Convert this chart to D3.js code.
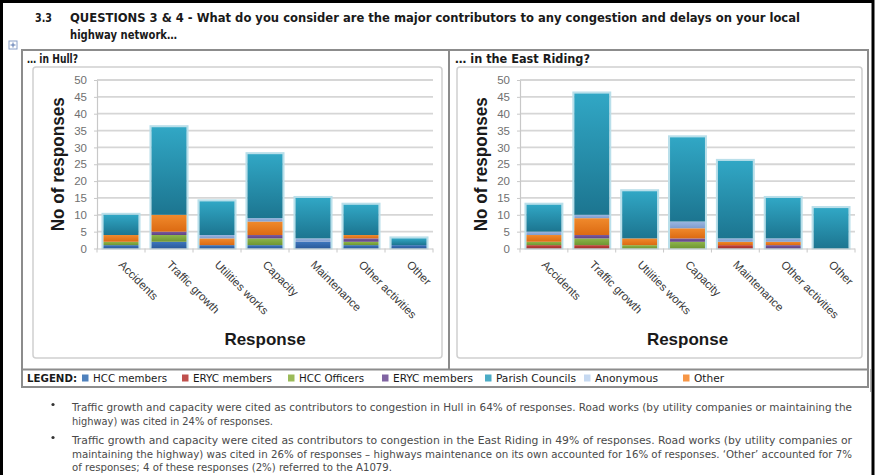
<!DOCTYPE html>
<html>
<head>
<meta charset="utf-8">
<script src="https://cdn.jsdelivr.net/npm/d3@7"></script>
<style>
  html, body { margin: 0; padding: 0; background: #fff; }
  svg { display: block; }
</style>
</head>
<body>
<div id="chart"></div>
<script>
// ---- Data ----------------------------------------------------------------
const categories = ["Accidents", "Traffic growth", "Utilities works", "Capacity",
                    "Maintenance", "Other activities", "Other"];

// Stack order (bottom to top)
const seriesKeys = ["hccMembers", "erycMembers", "hccOfficers", "erycMembers2",
                    "other", "anonymous", "parishCouncils"];

// Hull responses
const hullHccMembers     = [1, 2, 1, 1, 2, 1, 1];
const hullErycMembers    = [0, 0, 0, 0, 0, 0, 0];
const hullHccOfficers    = [1, 2, 0, 2, 0, 1, 0];
const hullErycMembers2   = [0, 1, 0, 1, 0, 1, 0];
const hullOther          = [2, 5, 2, 4, 0, 1, 0];
const hullAnonymous      = [0, 0, 1, 1, 1, 0, 0];
const hullParishCouncils = [6, 26, 10, 19, 12, 9, 2];

// East Riding responses
const erHccMembers     = [0, 0, 0, 0, 0, 0, 0];
const erErycMembers    = [1, 1, 0, 0, 1, 0, 0];
const erHccOfficers    = [1, 2, 1, 2, 0, 0, 0];
const erErycMembers2   = [0, 1, 0, 1, 0, 1, 0];
const erOther          = [2, 5, 2, 3, 1, 1, 0];
const erAnonymous      = [1, 1, 0, 2, 1, 1, 0];
const erParishCouncils = [8, 36, 14, 25, 23, 12, 12];

const yTicks = [0, 5, 10, 15, 20, 25, 30, 35, 40, 45, 50];

const legendKeys   = ["hccMembers", "erycMembers", "hccOfficers", "erycMembers2",
                      "parishCouncils", "anonymous", "other"];
const legendLabels = ["HCC members", "ERYC members", "HCC Officers", "ERYC members",
                      "Parish Councils", "Anonymous", "Other"];

// ---- Styles --------------------------------------------------------------
const barTop = {
  hccMembers: "#3d76bd", erycMembers: "#c4453f", hccOfficers: "#8db54a",
  erycMembers2: "#7a5aa0", other: "#f08a2c", anonymous: "#9bb6e0", parishCouncils: "#31a7c5"
};
const barBottom = {
  hccMembers: "#2a5a9a", erycMembers: "#a3302c", hccOfficers: "#6f9632",
  erycMembers2: "#5f4384", other: "#dc6a12", anonymous: "#7e9cce", parishCouncils: "#1c7590"
};
const legendColor = {
  hccMembers: "#4f81bd", erycMembers: "#c0504d", hccOfficers: "#9bbb59",
  erycMembers2: "#8064a2", parishCouncils: "#4bacc6", anonymous: "#c6d9f1", other: "#f79646"
};

const W = 877, H = 475;
const narrow = "'Liberation Sans Narrow','DejaVu Sans Condensed','Liberation Sans',sans-serif";
const sans = "'Liberation Sans',Arial,sans-serif";

const svg = d3.select("#chart").append("svg")
  .attr("width", W).attr("height", H)
  .attr("viewBox", `0 0 ${W} ${H}`);

svg.append("rect").attr("width", W).attr("height", H).attr("fill", "#fff");

// gradients for the bar segments
const defs = svg.append("defs");
seriesKeys.forEach(k => {
  const lg = defs.append("linearGradient").attr("id", "g-" + k)
    .attr("x1", 0).attr("y1", 0).attr("x2", 0).attr("y2", 1);
  lg.append("stop").attr("offset", "0%").attr("stop-color", barTop[k]);
  lg.append("stop").attr("offset", "100%").attr("stop-color", barBottom[k]);
});

// page frame
svg.append("path")
  .attr("d", `M1.5,${H} L1.5,1.5 L${W - 4},1.5 L${W - 4},${H}`)
  .attr("fill", "none").attr("stroke", "#000").attr("stroke-width", 3);

function label(g, x, y, s, o = {}) {
  const t = g.append("text").attr("x", x).attr("y", y).text(s)
    .attr("font-family", o.family || narrow)
    .attr("font-size", o.size || 11)
    .attr("font-weight", o.weight || "normal")
    .attr("fill", o.fill || "#000")
    .attr("text-anchor", o.anchor || "start");
  if (o.len) t.attr("textLength", o.len).attr("lengthAdjust", "spacingAndGlyphs");
  return t;
}

// ---- Heading ---------------------------------------------------------------
label(svg, 35, 22, "3.3", { size: 12, weight: "bold", fill: "#1a1a1a", len: 17 });
label(svg, 70, 22, "QUESTIONS 3 & 4 - What do you consider are the major contributors to any congestion and delays on your local",
  { size: 12, weight: "bold", fill: "#1a1a1a", len: 730 });
label(svg, 70, 39, "highway network\u2026", { size: 12, weight: "bold", fill: "#1a1a1a", len: 107 });

// small anchor marker
svg.append("rect").attr("x", 9).attr("y", 41).attr("width", 8).attr("height", 8)
  .attr("fill", "#fff").attr("stroke", "#8aa0c8").attr("stroke-width", 1);
svg.append("path").attr("d", "M13,42.5 V47.5 M10.5,45 H15.5")
  .attr("stroke", "#5a78b0").attr("stroke-width", 1);

// ---- Panel ---------------------------------------------------------------
const panel = svg.append("g");
panel.append("rect").attr("x", 22).attr("y", 50).attr("width", 846).attr("height", 337)
  .attr("fill", "none").attr("stroke", "#8c8c8c").attr("stroke-width", 2);
panel.append("line").attr("x1", 449).attr("x2", 449).attr("y1", 50).attr("y2", 369)
  .attr("stroke", "#8c8c8c").attr("stroke-width", 2);
panel.append("line").attr("x1", 22).attr("x2", 868).attr("y1", 369.5).attr("y2", 369.5)
  .attr("stroke", "#8c8c8c").attr("stroke-width", 2);
panel.append("line").attr("x1", 870.5).attr("x2", 870.5).attr("y1", 369).attr("y2", 392)
  .attr("stroke", "#b0b0b0").attr("stroke-width", 1);

label(panel, 27, 63, "\u2026 in Hull?", { size: 11.5, weight: "bold", fill: "#1a1a1a", len: 51 });
label(panel, 455, 63, "\u2026 in the East Riding?", { size: 11.5, weight: "bold", fill: "#1a1a1a", len: 135 });

// ---- Charts ----------------------------------------------------------------
function buildRows(arrs) {
  return categories.map((c, i) => {
    const row = { category: c };
    seriesKeys.forEach((k, j) => { row[k] = arrs[j][i]; });
    return row;
  });
}

function drawChart(o) {
  const g = svg.append("g");
  // chart area frame
  g.append("rect").attr("x", o.box[0]).attr("y", o.box[1])
    .attr("width", o.box[2]).attr("height", o.box[3]).attr("rx", 3)
    .attr("fill", "#fff").attr("stroke", "#d0d0d0").attr("stroke-width", 1.5);

  const x = d3.scaleBand().domain(categories).range([o.left, o.right])
    .paddingInner(0.27).paddingOuter(0.135);
  const y = d3.scaleLinear().domain([0, 50]).range([o.bottom, o.top]);

  // gridlines
  g.append("g").selectAll("line").data(yTicks.filter(t => t > 0)).join("line")
    .attr("x1", o.left).attr("x2", o.right)
    .attr("y1", d => y(d)).attr("y2", d => y(d))
    .attr("stroke", "#d6d6d6").attr("stroke-width", 1.8);

  // y axis
  const ya = g.append("g").attr("transform", `translate(${o.left},0)`)
    .call(d3.axisLeft(y).tickValues(yTicks).tickSize(3).tickPadding(7).tickSizeOuter(0));
  ya.select(".domain").attr("stroke", "#c8c8c8").attr("stroke-width", 1.2);
  ya.selectAll(".tick line").attr("stroke", "#c8c8c8");
  ya.selectAll(".tick text").attr("font-family", sans).attr("font-size", 11.5)
    .attr("fill", "#707070");

  // stacked bars
  const rows = buildRows(o.data);
  const stacked = d3.stack().keys(seriesKeys)(rows);
  const totals = rows.map(r => d3.sum(seriesKeys, k => r[k]));

  g.append("g").selectAll("rect").data(rows).join("rect")
    .attr("x", d => x(d.category) - 1)
    .attr("y", (d, i) => y(totals[i]) - 1)
    .attr("width", x.bandwidth() + 2)
    .attr("height", (d, i) => y(0) - y(totals[i]) + 1)
    .attr("fill", "none").attr("stroke", "#b9dfea").attr("stroke-width", 2);

  g.append("g").selectAll("g").data(stacked).join("g")
    .attr("fill", d => `url(#g-${d.key})`)
    .selectAll("rect").data(d => d.filter(s => s[1] > s[0])).join("rect")
    .attr("x", d => x(d.data.category))
    .attr("y", d => y(d[1]))
    .attr("width", x.bandwidth())
    .attr("height", d => y(d[0]) - y(d[1]));

  // x axis
  const step = x.step();
  const xa = g.append("g");
  xa.append("line").attr("x1", o.left).attr("x2", o.right)
    .attr("y1", y(0) + 0.5).attr("y2", y(0) + 0.5)
    .attr("stroke", "#c8c8c8").attr("stroke-width", 1.2);
  xa.selectAll("line.t").data(d3.range(categories.length + 1)).join("line").attr("class", "t")
    .attr("x1", i => o.left + i * step).attr("x2", i => o.left + i * step)
    .attr("y1", y(0)).attr("y2", y(0) + 4)
    .attr("stroke", "#c8c8c8");
  xa.selectAll("text").data(categories).join("text")
    .attr("transform", d => `translate(${x(d) + x.bandwidth() / 2 - 3},${y(0) + 17}) rotate(45)`)
    .attr("font-family", sans).attr("font-size", 11.5).attr("fill", "#3a3a3a")
    .text(d => d);

  // axis titles
  g.append("text")
    .attr("transform", `translate(${o.left - 33},${(o.top + o.bottom) / 2}) rotate(-90)`)
    .attr("text-anchor", "middle").attr("font-family", sans).attr("font-weight", "bold")
    .attr("font-size", 19).attr("fill", "#1a1a1a")
    .attr("textLength", 134).attr("lengthAdjust", "spacingAndGlyphs")
    .text("No of responses");
  g.append("text")
    .attr("x", (o.left + o.right) / 2).attr("y", 345)
    .attr("text-anchor", "middle").attr("font-family", sans).attr("font-weight", "bold")
    .attr("font-size", 17).attr("fill", "#1a1a1a")
    .text("Response");
}

drawChart({
  box: [33, 67, 409, 291], left: 97, right: 433, top: 80, bottom: 248.5,
  data: [hullHccMembers, hullErycMembers, hullHccOfficers, hullErycMembers2,
         hullOther, hullAnonymous, hullParishCouncils]
});
drawChart({
  box: [457, 67, 405, 291], left: 520, right: 855, top: 80, bottom: 248.5,
  data: [erHccMembers, erErycMembers, erHccOfficers, erErycMembers2,
         erOther, erAnonymous, erParishCouncils]
});

// ---- Legend ----------------------------------------------------------------
const legend = svg.append("g");
label(legend, 27, 382, "LEGEND:", { size: 10.5, weight: "bold", fill: "#1a1a1a", len: 50 });
const legendSwatchX = [82, 182, 288, 382, 485, 584, 683];
const legendTextLen = [74, 79, 65, 80, 80, 63, 30];
legendKeys.forEach((k, i) => {
  legend.append("rect").attr("x", legendSwatchX[i]).attr("y", 374.5)
    .attr("width", 6.5).attr("height", 7).attr("fill", legendColor[k]);
  label(legend, legendSwatchX[i] + 11, 382, legendLabels[i],
    { size: 10.5, fill: "#1a1a1a", len: legendTextLen[i] });
});

// ---- Notes -----------------------------------------------------------------
const notes = svg.append("g");
const noteStyle = { size: 10.5, fill: "#4a4a4a" };
[408, 441].forEach(yy => {
  notes.append("circle").attr("cx", 53).attr("cy", yy - 3.5).attr("r", 1.6).attr("fill", "#333");
});
label(notes, 72, 411, "Traffic growth and capacity were cited as contributors to congestion in Hull in 64% of responses. Road works (by utility companies or maintaining the",
  Object.assign({ len: 780 }, noteStyle));
label(notes, 72, 425, "highway) was cited in 24% of responses.",
  Object.assign({ len: 201 }, noteStyle));
label(notes, 72, 444, "Traffic growth and capacity were cited as contributors to congestion in the East Riding in 49% of responses. Road works (by utility companies or",
  Object.assign({ len: 780 }, noteStyle));
label(notes, 72, 458, "maintaining the highway) was cited in 26% of responses \u2013 highways maintenance on its own accounted for 16% of responses. \u2018Other\u2019 accounted for 7%",
  Object.assign({ len: 780 }, noteStyle));
label(notes, 72, 471, "of responses; 4 of these responses (2%) referred to the A1079.",
  Object.assign({ len: 320 }, noteStyle));
</script>
</body>
</html>
